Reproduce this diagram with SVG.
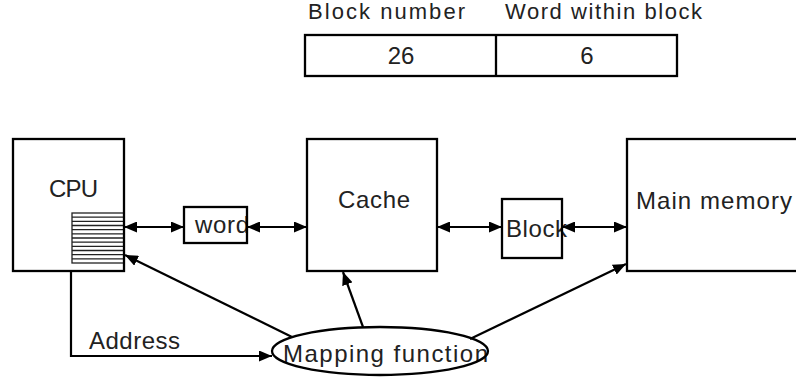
<svg xmlns="http://www.w3.org/2000/svg" width="796" height="377" viewBox="0 0 796 377">
  <style>
    .box { fill: none; stroke: #000; stroke-width: 2.3; }
    .reg { fill: none; stroke: #222; stroke-width: 1.3; }
    .wire { fill: none; stroke: #000; stroke-width: 2.2; }
    .lbl { font-family: "Liberation Sans", Arial, sans-serif; font-size: 24px; fill: #222; }
    .hdr { font-family: "Liberation Sans", Arial, sans-serif; font-size: 22px; fill: #222; }
  </style>
  <defs>
    <marker id="head" viewBox="0 0 13 11" refX="13" refY="5.5" markerWidth="13" markerHeight="11" markerUnits="userSpaceOnUse" orient="auto-start-reverse">
      <path d="M0,0 L13,5.5 L0,11 Z" fill="#000"/>
    </marker>
  </defs>
  <rect width="796" height="377" fill="#fff"/>

  <!-- address format -->
  <g id="address-format">
    <text class="hdr" x="308" y="19" textLength="157" lengthAdjust="spacing">Block number</text>
    <text class="hdr" x="505" y="19" textLength="197" lengthAdjust="spacing">Word within block</text>
    <rect class="box" x="305" y="35" width="372" height="41"/>
    <line class="box" x1="496" y1="35" x2="496" y2="76"/>
    <text class="lbl" x="401" y="64" text-anchor="middle">26</text>
    <text class="lbl" x="587" y="64" text-anchor="middle">6</text>
  </g>

  <!-- CPU with register file -->
  <g id="cpu">
    <text class="lbl" x="49" y="197" font-size="23" textLength="49" lengthAdjust="spacing">CPU</text>
    <rect class="reg" x="72" y="213" width="52" height="50"/>
    <path class="reg" d="M72,217.2H124M72,221.3H124M72,225.5H124M72,229.7H124M72,233.8H124M72,238H124M72,242.2H124M72,246.3H124M72,250.5H124M72,254.7H124M72,258.8H124"/>
    <rect class="box" x="13" y="139" width="111" height="132"/>
  </g>

  <!-- word transfer -->
  <g id="word">
    <text class="lbl" x="195" y="233" textLength="54" lengthAdjust="spacing">word</text>
    <rect class="box" x="184" y="207" width="63" height="36"/>
  </g>

  <!-- cache -->
  <g id="cache">
    <rect class="box" x="307" y="139" width="130" height="132"/>
    <text class="lbl" x="338" y="208" textLength="72" lengthAdjust="spacing">Cache</text>
  </g>

  <!-- block transfer -->
  <g id="block">
    <text class="lbl" x="506" y="237" textLength="61" lengthAdjust="spacing">Block</text>
    <rect class="box" x="502" y="199" width="60" height="59"/>
  </g>

  <!-- main memory -->
  <g id="main-memory">
    <rect class="box" x="627" y="139" width="180" height="132"/>
    <text class="lbl" x="636" y="209" textLength="156" lengthAdjust="spacing">Main memory</text>
  </g>

  <!-- mapping function -->
  <g id="mapping">
    <text class="lbl" x="283" y="362" textLength="205" lengthAdjust="spacing">Mapping function</text>
    <ellipse class="box" cx="380" cy="351" rx="108" ry="24"/>
  </g>

  <!-- connectors -->
  <g id="connectors">
    <line class="wire" x1="124" y1="227" x2="184" y2="227" marker-start="url(#head)" marker-end="url(#head)"/>
    <line class="wire" x1="247" y1="227" x2="307" y2="227" marker-start="url(#head)" marker-end="url(#head)"/>
    <line class="wire" x1="437" y1="227" x2="502" y2="227" marker-start="url(#head)" marker-end="url(#head)"/>
    <line class="wire" x1="562" y1="227" x2="627" y2="227" marker-start="url(#head)" marker-end="url(#head)"/>
    <polyline class="wire" points="71,271 71,356 272,356" marker-end="url(#head)"/>
    <text class="lbl" x="89" y="349" textLength="91" lengthAdjust="spacing">Address</text>
    <line class="wire" x1="292" y1="337" x2="125" y2="255" marker-end="url(#head)"/>
    <line class="wire" x1="363" y1="327" x2="343" y2="272" marker-end="url(#head)"/>
    <line class="wire" x1="470" y1="339" x2="626" y2="264" marker-end="url(#head)"/>
  </g>
</svg>
